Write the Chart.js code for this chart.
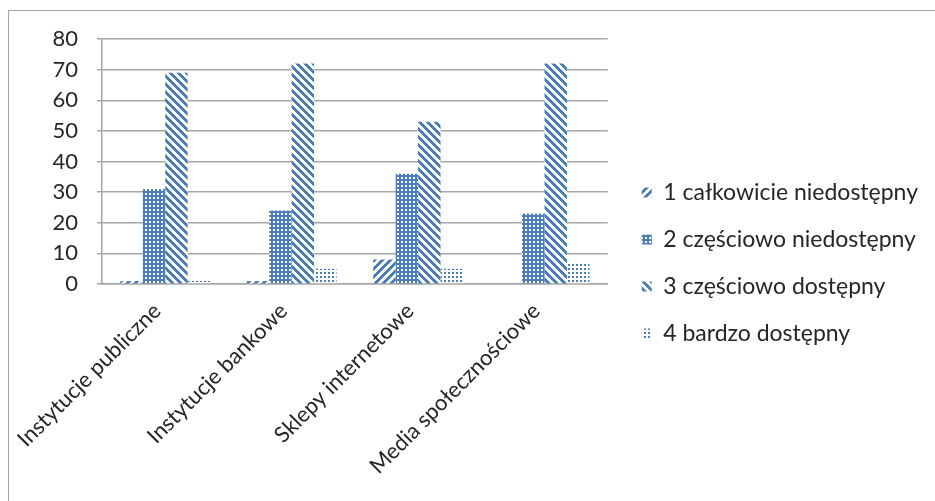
<!DOCTYPE html>
<html>
<head>
<meta charset="utf-8">
<script src="https://cdn.jsdelivr.net/npm/chart.js@4.4.1/dist/chart.umd.min.js"></script>
<style>
  html, body { margin: 0; padding: 0; background: #fff; overflow: hidden; }
  #frame { position: absolute; left: 8px; top: 10px; width: 2000px; height: 2000px; border-left: 1px solid #a6a6a6; border-top: 1px solid #a6a6a6; }
  canvas { position: absolute; left: 0; top: 0; display: block; }
</style>
</head>
<body>
<div id="frame"></div>
<canvas id="c" width="935" height="501"></canvas>
<script>
const categories = ['Instytucje publiczne', 'Instytucje bankowe', 'Sklepy internetowe', 'Media społecznościowe'];
const seriesNames = ['1 całkowicie niedostępny', '2 częściowo niedostępny', '3 częściowo dostępny', '4 bardzo dostępny'];
const s1 = [1, 1, 8, 0];
const s2 = [31, 24, 36, 23];
const s3 = [69, 72, 53, 72];
const s4 = [1, 5, 5, 7];
const yTicks = [0, 10, 20, 30, 40, 50, 60, 70, 80];

const BLUE = '#4a7dc0';
const FONT = 'Lato, "Open Sans", sans-serif';
const TEXT = '#262626';

// small tiles drawn pixel by pixel, then used as canvas patterns
function makePattern(size, isBlue) {
  const t = document.createElement('canvas');
  t.width = size; t.height = size;
  const g = t.getContext('2d');
  g.fillStyle = '#fff';
  g.fillRect(0, 0, size, size);
  g.fillStyle = BLUE;
  for (let y = 0; y < size; y++) {
    for (let x = 0; x < size; x++) {
      if (isBlue(x, y)) g.fillRect(x, y, 1, 1);
    }
  }
  return document.getElementById('c').getContext('2d').createPattern(t, 'repeat');
}

const pUp = makePattern(8, (x, y) => ((x + y) % 8) < 4);           // wide upward diagonal
const pGrid = makePattern(4, (x, y) => !(x >= 1 && x <= 2 && y >= 1 && y <= 2)); // dense grid
const pDown = makePattern(8, (x, y) => ((x - y + 8) % 8) < 4);      // wide downward diagonal
const pDots = makePattern(4, (x, y) => x < 2 && y < 2);             // sparse dots

const fills = [pUp, pGrid, pDown, pDots];
const values = [s1, s2, s3, s4];

new Chart(document.getElementById('c'), {
  type: 'bar',
  data: {
    labels: categories,
    datasets: seriesNames.map((name, i) => ({
      label: name,
      data: values[i],
      backgroundColor: fills[i],
      borderWidth: 0,
      categoryPercentage: 0.71,
      barPercentage: 1.0,
    })),
  },
  options: {
    responsive: false,
    animation: false,
    layout: { padding: { left: 0, top: 39, right: 7, bottom: 14 } },
    plugins: {
      tooltip: { enabled: false },
      legend: {
        position: 'right',
        align: 'center',
        maxWidth: 340,
        labels: {
          boxWidth: 10,
          boxHeight: 10,
          padding: 24,
          color: TEXT,
          font: { family: FONT, size: 23 },
        },
      },
    },
    scales: {
      x: {
        grid: { display: false, drawTicks: false },
        border: { color: '#a6a6a6', width: 1.5 },
        ticks: {
          color: TEXT,
          font: { family: FONT, size: 22 },
          minRotation: 45,
          maxRotation: 45,
          padding: 14,
          labelOffset: -8,
        },
        afterFit: (s) => { s.height = 203; },
      },
      y: {
        min: 0,
        max: 80,
        afterBuildTicks: (axis) => { axis.ticks = yTicks.map(v => ({ value: v })); },
        grid: { color: '#a6a6a6', lineWidth: 1.5, tickLength: 5 },
        border: { color: '#a6a6a6', width: 1.5 },
        ticks: {
          color: TEXT,
          font: { family: FONT, size: 22 },
          padding: 19,
        },
        afterFit: (s) => { s.width = 102; },
      },
      // empty scale only to leave a gap between plot and legend
      gap: {
        type: 'linear',
        position: 'right',
        grid: { display: false },
        border: { display: false },
        ticks: { display: false },
        afterFit: (s) => { s.width = 10; },
      },
    },
  },
});
</script>
</body>
</html>
